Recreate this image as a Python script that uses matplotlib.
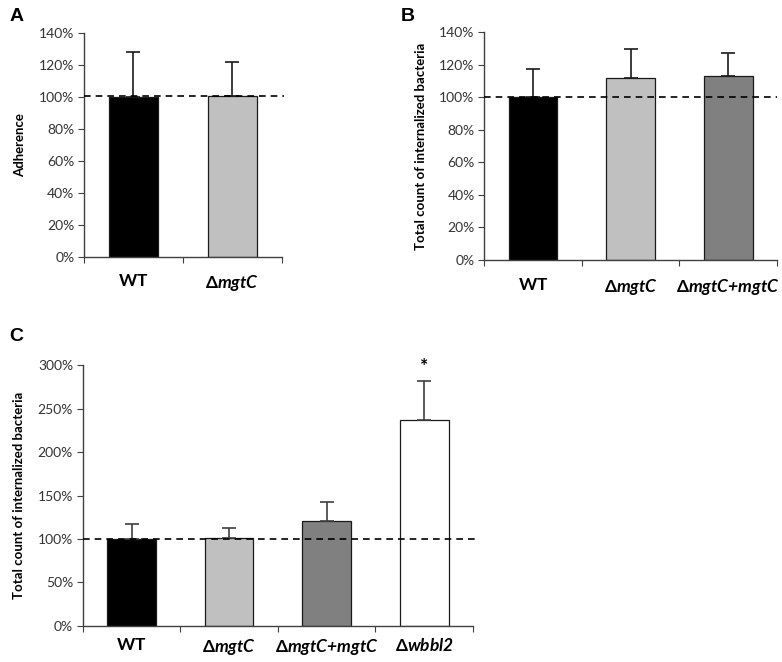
import matplotlib
matplotlib.use("Agg")
import matplotlib.pyplot as plt
import numpy as np
from matplotlib.ticker import PercentFormatter

plt.rcParams['font.family'] = ['Lato', 'DejaVu Sans']
plt.rcParams['mathtext.fontset'] = 'custom'
plt.rcParams['mathtext.rm'] = 'Lato:italic:bold'
plt.rcParams['mathtext.bf'] = 'Lato:bold'
plt.rcParams['mathtext.it'] = 'Lato:italic:bold'

# Panel A - adherence
a_labels = [r'$\mathbf{WT}$', r'$\mathbf{Δ}\mathit{mgtC}$']
a_values = [100, 100.5]
a_errors = [28, 21.5]

# Panel B - internalized bacteria
b_labels = [r'$\mathbf{WT}$', r'$\mathbf{Δ}\mathit{mgtC}$', r'$\mathbf{Δ}\mathit{mgtC}{+}\mathit{mgtC}$']
b_values = [100, 112, 113]
b_errors = [17.5, 17.5, 14]

# Panel C - internalized bacteria incl. wbbl2
c_labels = [r'$\mathbf{WT}$', r'$\mathbf{Δ}\mathit{mgtC}$', r'$\mathbf{Δ}\mathit{mgtC}{+}\mathit{mgtC}$', r'$\mathbf{Δ}\mathit{wbbl2}$']
c_values = [100.5, 101, 121, 237]
c_errors = [17, 12, 22, 45]

colors = ['#000000', '#c0c0c0', '#808080', '#ffffff']

fig = plt.figure(figsize=(7.82, 6.62), dpi=100)
axA = fig.add_axes([0.1074, 0.6122, 0.2532, 0.3375])
axB = fig.add_axes([0.6193, 0.6073, 0.3743, 0.3439])
axC = fig.add_axes([0.1058, 0.0544, 0.4991, 0.3942])


def draw(ax, labels, values, errors, ymax, ystep, ylabel, err_color, xpad):
    n = len(values)
    x = np.arange(n)
    ax.bar(x, values, 0.5, color=colors[:n], edgecolor='#1a1a1a', linewidth=0.9, zorder=2)
    ax.errorbar(x, values, yerr=[np.zeros(n), errors], fmt='none', ecolor=err_color,
                elinewidth=1.2, capsize=5, capthick=1.2, zorder=3)
    ax.set_xlim(-0.5, n - 0.5)
    ax.set_ylim(0, ymax)
    ax.set_yticks(np.arange(0, ymax + 1, ystep))
    ax.yaxis.set_major_formatter(PercentFormatter(decimals=0))
    ax.set_xticks(np.arange(n + 1) - 0.5)
    ax.set_xticklabels([])
    ax.set_xticks(x, minor=True)
    ax.set_xticklabels(labels, minor=True, fontsize=12.5)
    ax.tick_params(axis='x', which='minor', length=0, pad=xpad)
    ax.tick_params(axis='x', which='major', length=4, color='#404040')
    ax.tick_params(axis='y', length=4, color='#404040', labelsize=10, labelcolor='#333333', pad=3)
    for s in ['top', 'right']:
        ax.spines[s].set_visible(False)
    for s in ['left', 'bottom']:
        ax.spines[s].set_color('#404040')
        ax.spines[s].set_linewidth(1.0)
    ax.set_ylabel(ylabel, fontsize=9.5, fontweight='bold', labelpad=9)
    ax.set_facecolor('none')


draw(axA, a_labels, a_values, a_errors, 140, 20, 'Adherence', '#1a1a1a', 12)
draw(axB, b_labels, b_values, b_errors, 140, 20, 'Total count of internalized bacteria', '#1a1a1a', 12)
draw(axC, c_labels, c_values, c_errors, 300, 50, 'Total count of internalized bacteria', '#404040', 8)

axA.axhline(100.5, xmin=0, xmax=1.01, color='black', linestyle=(0, (4, 3)), linewidth=1.2, clip_on=False, zorder=4)
axB.axhline(100, xmin=0, xmax=1.0, color='black', linestyle=(0, (4, 3)), linewidth=1.2, clip_on=False, zorder=4)
axC.axhline(100, xmin=0, xmax=1.01, color='black', linestyle=(0, (4, 3)), linewidth=1.2, clip_on=False, zorder=4)

axC.text(3, c_values[3] + c_errors[3] + 7, '*', ha='center', va='bottom', fontsize=14, fontweight='bold')

fig.text(0.012, 0.988, 'A', fontsize=14, fontweight='bold', family='Liberation Sans', va='top')
fig.text(0.513, 0.988, 'B', fontsize=14, fontweight='bold', family='Liberation Sans', va='top')
fig.text(0.012, 0.505, 'C', fontsize=14, fontweight='bold', family='Liberation Sans', va='top')

plt.savefig('out.png', dpi=100)
plt.close()
